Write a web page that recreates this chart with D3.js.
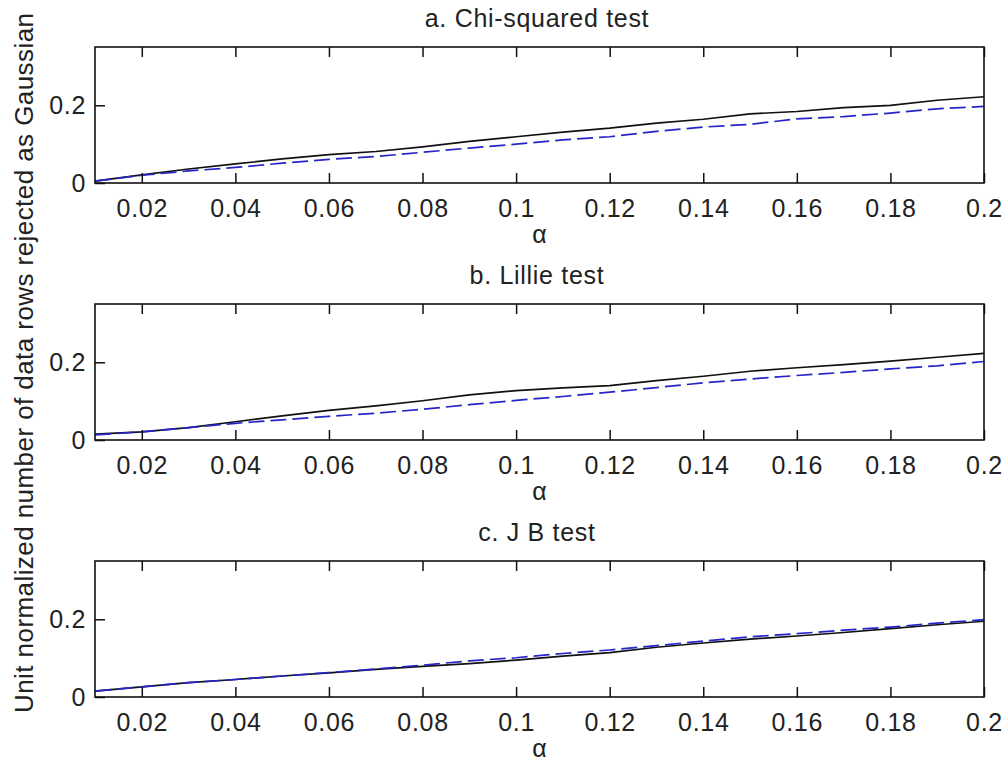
<!DOCTYPE html>
<html>
<head>
<meta charset="utf-8">
<script src="https://cdn.jsdelivr.net/npm/d3@7"></script>
<style>
  body { margin: 0; background: #fff; }
  text { font-family: "Liberation Sans", Arial, sans-serif; fill: #222; }
</style>
</head>
<body>
<div id="chart"></div>
<script>
// alpha values (x) shared by every panel
const alphas = [0.01, 0.02, 0.03, 0.04, 0.05, 0.06, 0.07, 0.08, 0.09, 0.10,
                0.11, 0.12, 0.13, 0.14, 0.15, 0.16, 0.17, 0.18, 0.19, 0.20];

// a. Chi-squared test
const chiSolid  = [0.005, 0.021, 0.036, 0.049, 0.062, 0.073, 0.081, 0.093, 0.107, 0.119,
                   0.131, 0.141, 0.154, 0.164, 0.178, 0.184, 0.194, 0.200, 0.213, 0.222];
const chiDashed = [0.005, 0.020, 0.031, 0.040, 0.051, 0.061, 0.068, 0.079, 0.090, 0.100,
                   0.111, 0.119, 0.133, 0.144, 0.151, 0.165, 0.171, 0.180, 0.191, 0.197];
// b. Lillie test
const lilSolid  = [0.015, 0.021, 0.032, 0.047, 0.062, 0.076, 0.088, 0.101, 0.116, 0.127,
                   0.134, 0.140, 0.153, 0.164, 0.177, 0.186, 0.194, 0.203, 0.213, 0.223];
const lilDashed = [0.013, 0.021, 0.032, 0.043, 0.052, 0.061, 0.069, 0.079, 0.091, 0.102,
                   0.112, 0.123, 0.135, 0.147, 0.157, 0.166, 0.174, 0.183, 0.191, 0.202];
// c. J B test
const jbSolid   = [0.015, 0.026, 0.037, 0.045, 0.054, 0.062, 0.071, 0.079, 0.086, 0.095,
                   0.105, 0.114, 0.128, 0.139, 0.149, 0.157, 0.166, 0.176, 0.186, 0.195];
const jbDashed  = [0.015, 0.026, 0.037, 0.045, 0.054, 0.063, 0.072, 0.082, 0.093, 0.101,
                   0.112, 0.121, 0.132, 0.144, 0.155, 0.163, 0.172, 0.180, 0.190, 0.199];

const titles = ["a. Chi-squared test", "b. Lillie test", "c. J B test"];
const xTicks = [0.02, 0.04, 0.06, 0.08, 0.1, 0.12, 0.14, 0.16, 0.18, 0.2];
const yTicks = [0, 0.2];
const yLabel = "Unit normalized number of data rows rejected as Gaussian";
const xLabel = "\u03b1";

const panels = [
  {title: titles[0], solid: chiSolid, dashed: chiDashed},
  {title: titles[1], solid: lilSolid, dashed: lilDashed},
  {title: titles[2], solid: jbSolid, dashed: jbDashed}
];

const svgWidth = 1006;
const svgHeight = 765;

// each panel's plot box
const left = 95, right = 984;
const panelTops = [47, 304, 561];
const panelHeight = 136;
const tickLen = 10;
const fontSize = 25;
const spacing = '0.7px';

const svg = d3.select('#chart')
  .append('svg')
  .attr('width', svgWidth)
  .attr('height', svgHeight);

const xScale = d3.scaleLinear().domain([0.01, 0.2]).range([left, right]);

panels.forEach((p, i) => {
  const top = panelTops[i];
  const bottom = top + panelHeight;
  const yScale = d3.scaleLinear().domain([0, 0.35]).range([bottom, top]);
  const g = svg.append('g');

  // lines
  const line = d3.line()
    .x((d, k) => xScale(alphas[k]))
    .y(d => yScale(d));

  g.append('path')
    .datum(p.solid)
    .attr('d', line)
    .attr('fill', 'none')
    .attr('stroke', '#111')
    .attr('stroke-width', 1.7);

  g.append('path')
    .datum(p.dashed)
    .attr('d', line)
    .attr('fill', 'none')
    .attr('stroke', '#2626c8')
    .attr('stroke-width', 1.7)
    .attr('stroke-dasharray', '16,6');

  // bottom axis (inward ticks)
  const xAxis = d3.axisBottom(xScale)
    .tickValues(xTicks)
    .tickSize(-tickLen)
    .tickPadding(16)
    .tickFormat(d => d3.format('')(+d.toFixed(2)));
  const xg = g.append('g')
    .attr('transform', `translate(0, ${bottom})`)
    .call(xAxis);
  xg.select('.domain').remove();
  xg.selectAll('line').attr('stroke', '#111').attr('stroke-width', 1.5);
  xg.selectAll('text')
    .style('font-size', fontSize + 'px')
    .style('font-family', '"Liberation Sans", Arial, sans-serif')
    .style('letter-spacing', spacing)
    .attr('fill', '#222');

  // top axis ticks only
  const topAxis = d3.axisTop(xScale).tickValues(xTicks).tickSize(-tickLen).tickFormat('');
  const tg = g.append('g')
    .attr('transform', `translate(0, ${top})`)
    .call(topAxis);
  tg.select('.domain').remove();
  tg.selectAll('line').attr('stroke', '#111').attr('stroke-width', 1.5);

  // left axis
  const yAxis = d3.axisLeft(yScale)
    .tickValues(yTicks)
    .tickSize(-tickLen)
    .tickPadding(9)
    .tickFormat(d => d === 0 ? '0' : '0.2');
  const yg = g.append('g')
    .attr('transform', `translate(${left}, 0)`)
    .call(yAxis);
  yg.select('.domain').remove();
  yg.selectAll('line').attr('stroke', '#111').attr('stroke-width', 1.5);
  yg.selectAll('text')
    .style('font-size', fontSize + 'px')
    .style('font-family', '"Liberation Sans", Arial, sans-serif')
    .style('letter-spacing', spacing)
    .attr('fill', '#222');

  // box
  g.append('rect')
    .attr('x', left)
    .attr('y', top)
    .attr('width', right - left)
    .attr('height', panelHeight)
    .attr('fill', 'none')
    .attr('stroke', '#111')
    .attr('stroke-width', 1.6);

  // title
  g.append('text')
    .attr('x', 537)
    .attr('y', top - 20)
    .attr('text-anchor', 'middle')
    .style('font-size', fontSize + 'px')
    .style('letter-spacing', spacing)
    .text(p.title);

  // x label
  g.append('text')
    .attr('x', (left + right) / 2)
    .attr('y', bottom + 60)
    .attr('text-anchor', 'middle')
    .style('font-size', fontSize + 'px')
    .text(xLabel);
});

// shared y label
svg.append('text')
  .attr('transform', `translate(33, 363) rotate(-90)`)
  .attr('text-anchor', 'middle')
  .attr('textLength', 700)
  .attr('lengthAdjust', 'spacing')
  .style('font-size', '26px')
  .text(yLabel);
</script>
</body>
</html>
